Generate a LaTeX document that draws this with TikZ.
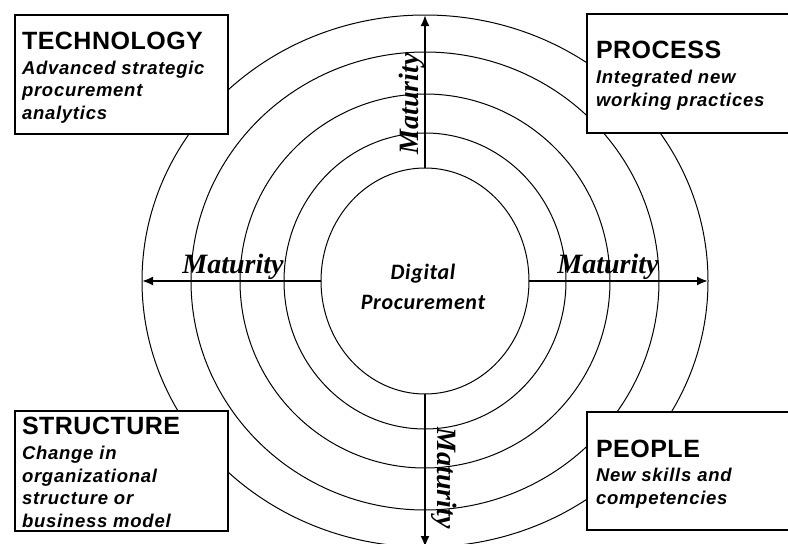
\documentclass[tikz,border=0pt]{standalone}
\usepackage{fontspec}
\setmainfont{Liberation Sans}
\newfontfamily\maturityfont{Liberation Serif}
\newfontfamily\hubfont{Carlito}[LetterSpace=3]
\usetikzlibrary{shapes.geometric,arrows.meta}

\begin{document}
\begin{tikzpicture}[x=1pt,y=-1pt,
  every node/.style={inner sep=0pt, outer sep=0pt},
  ring/.style={draw, ellipse, line width=1pt},
  matarrow/.style={line width=2pt, -{Latex[length=11pt,width=9pt]}},
  maturity/.style={font=\maturityfont\bfseries\itshape\fontsize{28}{30}\selectfont, anchor=base},
  hub/.style={font=\hubfont\bfseries\itshape\fontsize{22}{30}\selectfont, align=center},
  panel/.style={draw, line width=2.2pt, fill=white, anchor=north west},
  head/.style={font=\bfseries\fontsize{25}{28}\selectfont\addfontfeature{LetterSpace=2}, anchor=base west},
  desc/.style={font=\bfseries\itshape\fontsize{18.5}{22.5}\selectfont\addfontfeature{LetterSpace=4}, align=left, anchor=base west}]

\path[use as bounding box, clip] (0,0) rectangle (788,544);

% rings of maturity
\node[ring, minimum width=208pt, minimum height=226pt] (r1) at (425,281) {};
\node[ring, minimum width=282pt, minimum height=296pt] (r2) at (425,281) {};
\node[ring, minimum width=370pt, minimum height=374pt] (r3) at (425,281) {};
\node[ring, minimum width=468pt, minimum height=458pt] (r4) at (425,281) {};
\node[ring, minimum width=566pt, minimum height=532pt] (r5) at (425,281) {};

\node[hub] (hubtext) at (423,287) {Digital\\Procurement};

% arrows
\draw[matarrow] (r1.north) -- (r5.north);
\draw[matarrow] (r1.south) -- (r5.south);
\draw[matarrow] (r1.west) -- (r5.west);
\draw[matarrow] (r1.east) -- (r5.east);

\node[maturity] (mleft) at (233,273) {Maturity};
\node[maturity] (mright) at (608,273) {Maturity};
\node[maturity, rotate=90] (mup) at (418,104) {Maturity};
\node[maturity, rotate=-90] (mdown) at (437,478) {Maturity};

% corner boxes
\node[panel, minimum width=213pt, minimum height=119pt] (tech) at (15,15) {};
\node[panel, minimum width=230pt, minimum height=119pt] (proc) at (587,14) {};
\node[panel, minimum width=213pt, minimum height=120pt] (struct) at (15,411) {};
\node[panel, minimum width=230pt, minimum height=118pt] (people) at (587,412) {};

% texts (desc nodes sit on their last baseline)
\node[head] (techhead) at (22,49) {TECHNOLOGY};
\node[desc] (techdesc) at (22,119) {Advanced strategic\\procurement\\analytics};
\node[head] (prochead) at (596,58) {PROCESS};
\node[desc] (procdesc) at (596,106) {Integrated new\\working practices};
\node[head] (structhead) at (22,434) {STRUCTURE};
\node[desc] (structdesc) at (22,527) {Change in\\organizational\\structure or\\business model};
\node[head] (peoplehead) at (596,457) {PEOPLE};
\node[desc] (peopledesc) at (596,504) {New skills and\\competencies};
\end{tikzpicture}
\end{document}
